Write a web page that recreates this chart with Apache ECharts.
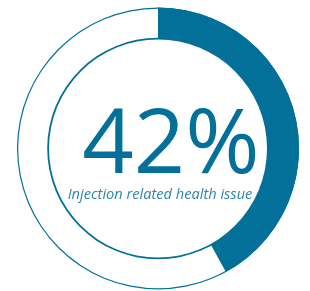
<!DOCTYPE html>
<html><head><meta charset="utf-8">
<script src="https://cdn.jsdelivr.net/npm/echarts@6/dist/echarts.min.js"></script>
<style>html,body{margin:0;padding:0;background:#fff}#c{width:310px;height:291px}</style>
</head><body><div id="c"></div>
<script>
const categories = ['Injection related health issue', 'Other'];
const values = [42, 58];
const mainLabel = '42%';
const subLabel = 'Injection related health issue';
const blue = '#03709a';
const chart = echarts.init(document.getElementById('c'), null, {renderer: 'canvas'});
chart.setOption({
  animation: false,
  title: [
    {text: mainLabel, left: 166, top: 97, textAlign: 'center',
     textStyle: {fontFamily: 'Open Sans', fontWeight: 400, fontSize: 90, color: blue}},
    {text: subLabel, left: 155, top: 182, textAlign: 'center',
     textStyle: {fontFamily: 'Open Sans', fontStyle: 'italic', fontWeight: 400, fontSize: 14.6, color: '#2f86aa'}}
  ],
  series: [
    {type: 'pie', silent: true, center: [158, 148.5], radius: [139.8, 141], label: {show: false},
     itemStyle: {color: blue}, data: [{value: 1, name: 'outer'}]},
    {type: 'pie', silent: true, center: [158, 148.5], radius: [109, 110.8], label: {show: false},
     itemStyle: {color: blue}, data: [{value: 1, name: 'inner'}]},
    {type: 'pie', silent: true, center: [158, 148.5], radius: [110, 141], startAngle: 90, clockwise: true,
     label: {show: false}, labelLine: {show: false},
     data: categories.map((c, i) => ({name: c, value: values[i],
       itemStyle: {color: i === 0 ? blue : 'rgba(0,0,0,0)'}}))}
  ]
});
</script></body></html>
